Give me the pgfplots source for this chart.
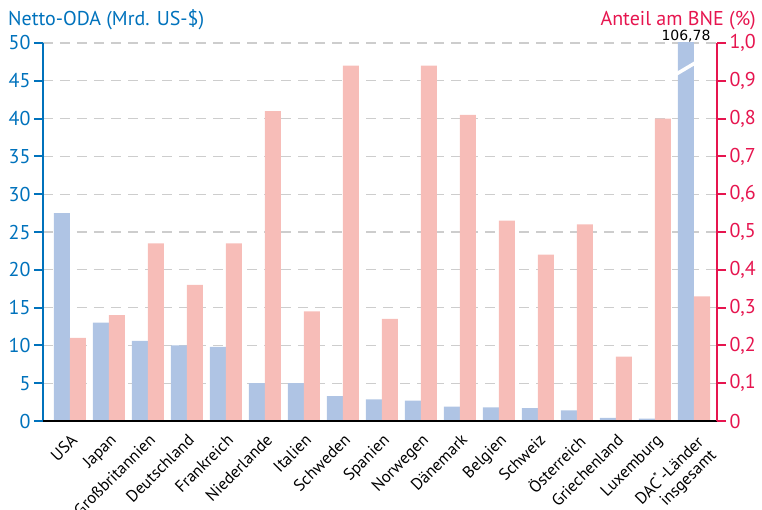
\documentclass[border=0pt]{standalone}
\usepackage{pgfplots}
\pgfplotsset{compat=1.18}
\usepackage{pgfplotstable}
\usepackage{fontspec}
\setmainfont{PT Sans}
\newfontfamily\dejavu{DejaVu Sans}
\definecolor{barblue}{HTML}{AFC4E4}
\definecolor{barpink}{HTML}{F7BDB8}
\definecolor{axblue}{HTML}{0072BC}
\definecolor{axred}{HTML}{E6154F}
\definecolor{gridgray}{HTML}{CDCDCD}

\pgfplotstableread{
x oda gni
0 27.5 0.22
1 13.0 0.28
2 10.6 0.47
3 10.0 0.36
4 9.8 0.47
5 5.0 0.82
6 5.0 0.29
7 3.3 0.94
8 2.85 0.27
9 2.7 0.94
10 1.9 0.81
11 1.8 0.53
12 1.7 0.44
13 1.4 0.52
14 0.4 0.17
15 0.3 0.80
16 106.78 0.33
}\datatable

\begin{document}
\begin{tikzpicture}
\pgfplotsset{every axis/.append style={font=\fontsize{20}{23}\selectfont}}
\begin{axis}[name=ax1, scale only axis, width=674pt, height=378pt,
  xmin=-0.69, xmax=16.59, ymin=0, ymax=50,
  axis x line*=bottom, axis y line*=left,
  x axis line style={black, line width=2.5pt, -},
  y axis line style={axblue, line width=2pt, -},
  xtick={0,...,16},
  xticklabels={USA,Japan,Großbritannien,Deutschland,Frankreich,Niederlande,Italien,Schweden,Spanien,Norwegen,Dänemark,Belgien,Schweiz,Österreich,Griechenland,Luxemburg,{DAC\textsuperscript{*}-Länder\\insgesamt}},
  x tick label style={rotate=45, anchor=north east, font=\fontsize{16.5}{18}\selectfont, align=right, inner sep=2pt},
  major x tick style={draw=none},
  ytick={0,5,...,50},
  y tick label style={axblue},
  major y tick style={axblue, line width=2pt},
  tick align=outside, major tick length=9pt,
  ymajorgrids, grid style={gridgray, dash pattern=on 10pt off 7pt, line width=1.3pt},
  /pgf/number format/assume math mode=true,
]
\addplot[ybar, bar width=16pt, bar shift=-8pt, fill=barblue, draw=none] table[x=x,y=oda]{\datatable};
\draw[white, line width=3.5pt] (axis cs:15.55,45.9) -- (axis cs:16.04,47.4);
\coordinate (dactop) at (axis cs:16,50);
\end{axis}
\begin{axis}[scale only axis, width=674pt, height=378pt,
  xmin=-0.69, xmax=16.59, ymin=0, ymax=1,
  axis on top,
  axis x line*=bottom, axis y line*=right,
  xtick=\empty,
  x axis line style={black, line width=2.5pt, -},
  y axis line style={axred, line width=2pt, -},
  ytick={0,0.1,0.2,0.3,0.4,0.5,0.6,0.7,0.8,0.9,1},
  yticklabels={0,{0,1},{0,2},{0,3},{0,4},{0,5},{0,6},{0,7},{0,8},{0,9},{1,0}},
  y tick label style={axred},
  major y tick style={axred, line width=2pt},
  tick align=outside, major tick length=9pt,
]
\addplot[ybar, bar width=16pt, bar shift=8pt, fill=barpink, draw=none] table[x=x,y=gni]{\datatable};
\end{axis}
\node[anchor=base, font=\dejavu\fontsize{14}{15}\selectfont, xshift=-8pt, yshift=2pt] at (dactop) {106,78};
\node[anchor=base west, text=axblue, font=\fontsize{20}{23}\selectfont, inner sep=0pt] at ([xshift=-35pt,yshift=17pt]ax1.north west) {Netto-ODA (Mrd. US-\$)};
\node[anchor=base east, text=axred, font=\fontsize{20}{23}\selectfont, inner sep=0pt] at ([xshift=39pt,yshift=17pt]ax1.north east) {Anteil am BNE (\%)};
\pgfresetboundingbox
\path[use as bounding box] ([xshift=-43pt,yshift=-88pt]ax1.south west) rectangle ([xshift=45pt,yshift=43pt]ax1.north east);
\end{tikzpicture}
\end{document}
